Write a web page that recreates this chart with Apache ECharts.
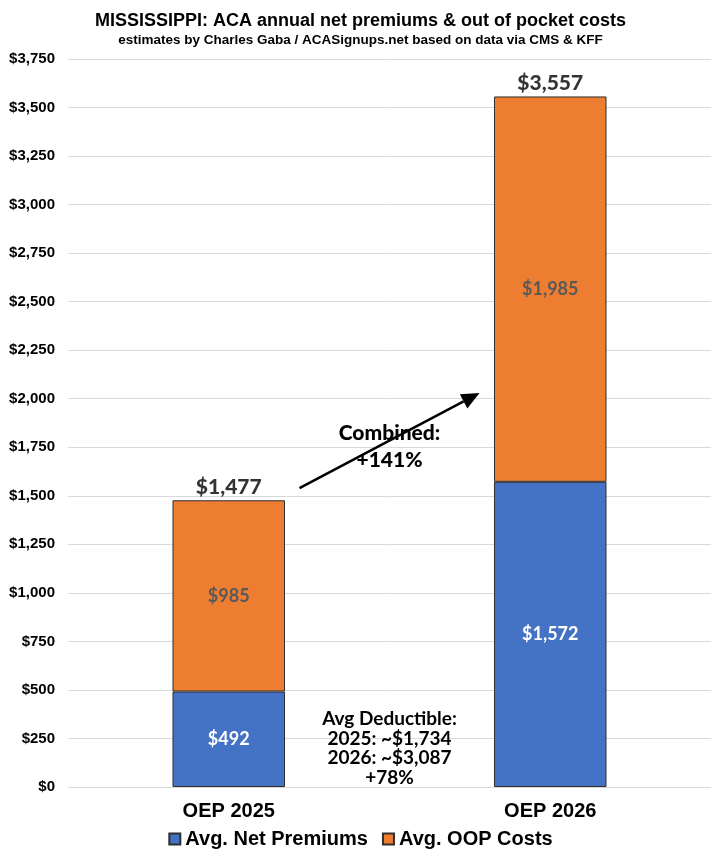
<!DOCTYPE html>
<html>
<head>
<meta charset="utf-8">
<script src="https://cdn.jsdelivr.net/npm/echarts@6/dist/echarts.min.js"></script>
<style>
  html, body { margin: 0; padding: 0; background: #fff; }
  #main { width: 721px; height: 864px; }
</style>
</head>
<body>
<div id="main"></div>
<script>
var categories = ['OEP 2025', 'OEP 2026'];
var netPremiums = [492, 1572];
var oopCosts = [985, 1985];
var totals = [1477, 3557];
var deductibleNote = ['Avg Deductible:', '2025: ~$1,734', '2026: ~$3,087', '+78%'];
var combinedNote = ['Combined:', '+141%'];

var narrow = '"Liberation Sans Narrow", "Arial Narrow", "Liberation Sans", sans-serif';
var soft = 'Lato, "Open Sans", sans-serif';

function money(v) {
    return '$' + v.toLocaleString('en-US');
}

var myChart = echarts.init(document.getElementById('main'));

myChart.setOption({
    animation: false,
    title: {
        text: 'MISSISSIPPI: ACA annual net premiums & out of pocket costs',
        subtext: 'estimates by Charles Gaba / ACASignups.net based on data via CMS & KFF',
        left: 'center',
        top: 7,
        itemGap: 3,
        textStyle: { fontFamily: narrow, fontWeight: 'bold', fontSize: 18, color: '#000' },
        subtextStyle: { fontFamily: narrow, fontWeight: 'bold', fontSize: 13.5, color: '#000' }
    },
    grid: { left: 68, right: 10, top: 59, bottom: 77 },
    legend: {
        data: ['Avg. Net Premiums', 'Avg. OOP Costs'],
        bottom: 10,
        left: 'center',
        icon: 'rect',
        itemWidth: 11,
        itemHeight: 11,
        itemGap: 14,
        textStyle: { fontFamily: narrow, fontWeight: 'bold', fontSize: 20, color: '#000' }
    },
    xAxis: {
        type: 'category',
        data: categories,
        axisLine: { show: false },
        axisTick: { show: false },
        axisLabel: {
            margin: 14,
            fontFamily: narrow, fontWeight: 'bold', fontSize: 20, color: '#000'
        }
    },
    yAxis: {
        type: 'value',
        min: 0,
        max: 3750,
        interval: 250,
        axisLabel: {
            margin: 13,
            formatter: function (v) { return money(v); },
            fontFamily: narrow, fontWeight: 'bold', fontSize: 15, color: '#000'
        },
        splitLine: { lineStyle: { color: '#d9d9d9', width: 1 } }
    },
    series: [{
        name: 'Avg. Net Premiums',
        type: 'bar',
        stack: 'cost',
        barWidth: '35%',
        data: netPremiums,
        itemStyle: { color: '#4472C4', borderColor: '#2f2f2f', borderWidth: 1 },
        label: {
            show: true,
            position: 'inside',
            formatter: function (p) { return money(p.value); },
            fontFamily: soft, fontWeight: 'bold', fontSize: 18, color: '#fff'
        }
    }, {
        name: 'Avg. OOP Costs',
        type: 'bar',
        stack: 'cost',
        data: oopCosts,
        itemStyle: { color: '#ED7D31', borderColor: '#2f2f2f', borderWidth: 1 },
        label: {
            show: true,
            position: 'inside',
            formatter: function (p) { return money(p.value); },
            fontFamily: soft, fontWeight: 'bold', fontSize: 18, color: '#595959'
        }
    }, {
        name: 'Total',
        type: 'scatter',
        symbolSize: 0,
        data: totals.map(function (t, i) { return [i, t]; }),
        label: {
            show: true,
            position: 'top',
            distance: 3,
            formatter: function (p) { return money(p.value[1]); },
            fontFamily: soft, fontWeight: 900, fontSize: 21, color: '#000'
        }
    }]
});

// annotations placed through the chart's own scales
function addNotes() {
    var p0 = myChart.convertToPixel({ gridIndex: 0 }, [0, 0]);
    var p1 = myChart.convertToPixel({ gridIndex: 0 }, [1, 0]);
    var step = p1[0] - p0[0];
    var y = function (v) { return myChart.convertToPixel({ yAxisIndex: 0 }, v); };

    var start = [p0[0] + step * 0.22, y(1540)];
    var end = [p0[0] + step * 0.78, y(2030)];
    var ang = Math.atan2(end[1] - start[1], end[0] - start[0]);
    var hl = 18, hw = 8;
    var base = [end[0] - hl * Math.cos(ang), end[1] - hl * Math.sin(ang)];
    var head = [
        end,
        [base[0] + hw * Math.sin(ang), base[1] - hw * Math.cos(ang)],
        [base[0] - hw * Math.sin(ang), base[1] + hw * Math.cos(ang)]
    ];

    myChart.setOption({
        graphic: [{
            type: 'line',
            shape: { x1: start[0], y1: start[1], x2: base[0], y2: base[1] },
            style: { stroke: '#000', lineWidth: 2.5 }
        }, {
            type: 'polygon',
            shape: { points: head },
            style: { fill: '#000' }
        }, {
            type: 'text',
            x: p0[0] + step * 0.5,
            y: y(1755),
            style: {
                text: combinedNote.join('\n'),
                align: 'center',
                verticalAlign: 'middle',
                lineHeight: 27,
                font: '900 21px ' + soft,
                fill: '#000'
            }
        }, {
            type: 'text',
            x: p0[0] + step * 0.5,
            y: y(200),
            style: {
                text: deductibleNote.join('\n'),
                align: 'center',
                verticalAlign: 'middle',
                lineHeight: 19.5,
                font: 'bold 19px ' + soft,
                fill: '#000'
            }
        }]
    });
}
addNotes();
</script>
</body>
</html>
